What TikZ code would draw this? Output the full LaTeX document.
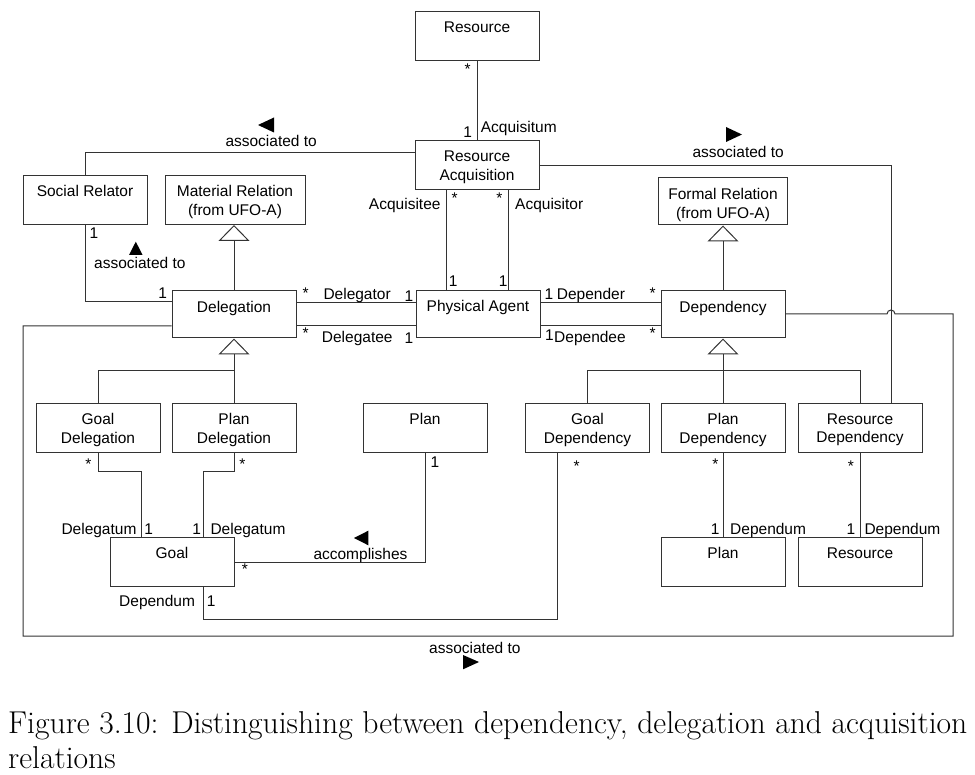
\documentclass[tikz,border=0pt]{standalone}
\usepackage{fontspec}
\newfontfamily\umlfont{Liberation Sans}
\usepackage{tikz}
\usetikzlibrary{arrows.meta}
\usepackage{xcolor}
\definecolor{umlline}{HTML}{333333}

\begin{document}
\begin{tikzpicture}[
  x=1pt, y=-1pt,
  font=\umlfont\fontsize{15.5}{18.7}\selectfont,
  umlclass/.style={draw=umlline, line width=1pt, minimum width=124pt, minimum height=49pt, inner sep=0pt},
  classname/.style={anchor=north, label distance=-10.4pt, inner sep=0pt, align=center},
  assoc/.style={draw=umlline, line width=1pt},
  isa/.style={assoc, -{Triangle[open, length=16pt, width=31pt]}},
  mult/.style={inner sep=0pt, anchor=base},
  role/.style={inner sep=0pt, anchor=base west},
  star/.style={inner sep=0pt}
]
  \useasboundingbox (0,0) rectangle (975,775);

  % Classes, top part
  \node[umlclass, label={[classname]north:Resource}] (resource) at (477,36.5) {};
  \node[umlclass, label={[classname]north:{Resource\\Acquisition}}] (resacq) at (477,165.5) {};
  \node[umlclass, label={[classname]north:Social Relator}] (socrel) at (85,200) {};
  \node[umlclass, minimum width=140pt, label={[classname]north:{Material Relation\\(from UFO-A)}}] (matrel) at (235,200) {};
  \node[umlclass, minimum width=129pt, minimum height=47pt, label={[classname]north:{Formal Relation\\(from UFO-A)}}] (formrel) at (723,201.5) {};

  % Classes, middle row
  \node[umlclass, minimum height=47pt, label={[classname]north:Delegation}] (deleg) at (234,314.5) {};
  \node[umlclass, minimum height=47pt, label={[classname]north:Physical Agent}] (agent) at (478,314) {};
  \node[umlclass, minimum height=47pt, label={[classname]north:Dependency}] (depend) at (723,314.5) {};

  % Subclasses
  \node[umlclass, label={[classname]north:{Goal\\Delegation}}] (goaldel) at (98,428) {};
  \node[umlclass, label={[classname]north:{Plan\\Delegation}}] (plandel) at (234,428) {};
  \node[umlclass, label={[classname]north:Plan}] (planmid) at (425,428) {};
  \node[umlclass, label={[classname]north:{Goal\\Dependency}}] (goaldep) at (587.5,428) {};
  \node[umlclass, label={[classname]north:{Plan\\Dependency}}] (plandep) at (723,428) {};
  \node[umlclass, label={[classname]north:{Resource\\Dependency}}] (resdep) at (860,428) {};

  % Bottom row
  \node[umlclass, label={[classname]north:Goal}] (goal) at (172,562) {};
  \node[umlclass, label={[classname]north:Plan}] (planlow) at (723,562) {};
  \node[umlclass, label={[classname]north:Resource}] (reslow) at (860,562) {};

  % Acquisition links
  \draw[assoc] (resource.south) -- (resacq.north);
  \draw[assoc] (resacq.south -| 446,0) -- (agent.north -| 446,0);
  \draw[assoc] (resacq.south -| 508,0) -- (agent.north -| 508,0);
  \draw[assoc] (socrel.north) |- (resacq.west |- 0,153);
  \draw[assoc] (resacq.east) -| (resdep.north -| 891,0);

  % Delegation / dependency links
  \draw[assoc] (socrel.south) |- (deleg.west |- 0,302);
  \draw[isa] (deleg.north) -- (deleg.north |- matrel.south);
  \draw[isa] (depend.north) -- (formrel.south);
  \draw[assoc] (deleg.east |- 0,302.5) -- (agent.west |- 0,302.5);
  \draw[assoc] (deleg.east |- 0,326) -- (agent.west |- 0,326);
  \draw[assoc] (agent.east |- 0,302.5) -- (depend.west |- 0,302.5);
  \draw[assoc] (agent.east |- 0,326) -- (depend.west |- 0,326);

  % Generalizations
  \draw[isa] (plandel.north) -- (deleg.south);
  \draw[assoc] (goaldel.north) |- (plandel.north |- 0,371);
  \draw[isa] (plandep.north) -- (depend.south);
  \draw[assoc] (goaldep.north) |- (resdep.north |- 0,371) -- (resdep.north);

  % Goal, plan, resource links
  \draw[assoc] (goaldel.south) |- (141,472) -- (goal.north -| 141,0);
  \draw[assoc] (plandel.south) |- (203,472) -- (goal.north -| 203,0);
  \draw[assoc] (planmid.south) |- (goal.east);
  \draw[assoc] (goal.south -| 203,0) |- (557,619) -- (goaldep.south -| 557,0);
  \draw[assoc] (plandep.south) -- (planlow.north);
  \draw[assoc] (resdep.south) -- (reslow.north);

  % Outer loop, hopping over the vertical line
  \draw[assoc] (deleg.west |- 0,326) -| (23,636) -| (953,314)
    -- (895,314) arc[start angle=0, end angle=-180, radius=4] -- (depend.east |- 0,314);

  % Reading direction marks
  \fill (258,125) -- (274,117.5) -- (274,132.5) -- cycle;
  \fill (742,134.5) -- (726,127) -- (726,142) -- cycle;
  \fill (135.8,241.7) -- (129,255) -- (142.6,255) -- cycle;
  \fill (354,538) -- (368.3,530.7) -- (368.3,545.3) -- cycle;
  \fill (479,662) -- (463,655) -- (463,669.3) -- cycle;

  % Association labels
  \node[role] (assocA) at (225.3,146.7) {associated to};
  \node[role] (assocB) at (692.3,157.3) {associated to};
  \node[role] (assocC) at (94,268.3) {associated to};
  \node[role] (assocD) at (429,653.3) {associated to};
  \node[role] (accompl) at (313.3,559.3) {accomplishes};

  % Multiplicities and roles, top
  \node[star] (sRes) at (467.7,69.3) {*};
  \node[mult] (oRes) at (467.7,137.3) {1};
  \node[role] (acqum) at (480.7,132.3) {Acquisitum};
  \node[inner sep=0pt, anchor=base east] (acqee) at (440.7,209.3) {Acquisitee};
  \node[star] (sAcqee) at (454.7,198.3) {*};
  \node[star] (sAcqor) at (499.3,198.3) {*};
  \node[role] (acqor) at (515,209.3) {Acquisitor};
  \node[mult] (oAcqee) at (453.3,286.7) {1};
  \node[mult] (oAcqor) at (503.3,286.7) {1};
  \node[mult] (oSoc) at (94,238.3) {1};
  \node[mult] (oSocDel) at (162.7,298.3) {1};

  % Multiplicities and roles, middle
  \node[star] (sDgor) at (305.7,293) {*};
  \node[role] (dgor) at (323.3,299.3) {Delegator};
  \node[mult] (oDgor) at (409,301.7) {1};
  \node[star] (sDgee) at (305.7,333) {*};
  \node[role] (dgee) at (321.7,343) {Delegatee};
  \node[mult] (oDgee) at (409,344) {1};
  \node[mult] (oDpor) at (549,299.3) {1};
  \node[role] (dpor) at (556.7,299.3) {Depender};
  \node[star] (sDpor) at (652.7,293) {*};
  \node[mult] (oDpee) at (549.5,341) {1};
  \node[role] (dpee) at (554,343) {Dependee};
  \node[star] (sDpee) at (652.7,333) {*};

  % Multiplicities and roles, bottom
  \node[star] (sGdel) at (88.3,464) {*};
  \node[star] (sPdel) at (242.3,464) {*};
  \node[mult] (oPlan) at (435,467.3) {1};
  \node[role] (dtumA) at (61.3,534.7) {Delegatum};
  \node[mult] (oDtumA) at (148.7,534.7) {1};
  \node[mult] (oDtumB) at (196.7,534.7) {1};
  \node[role] (dtumB) at (210.3,534.7) {Delegatum};
  \node[star] (sAcc) at (245,569.3) {*};
  \node[role] (dumGoal) at (119,606) {Dependum};
  \node[mult] (oDumGoal) at (211.3,606) {1};
  \node[star] (sGdep) at (576.7,466) {*};
  \node[star] (sPdep) at (715.3,464) {*};
  \node[star] (sRdep) at (851,466) {*};
  \node[mult] (oDumPlan) at (715.3,534.7) {1};
  \node[role] (dumPlan) at (730,534.7) {Dependum};
  \node[mult] (oDumRes) at (851,534.7) {1};
  \node[role] (dumRes) at (864.3,534.7) {Dependum};

  % Caption
  \node[inner sep=0pt, anchor=north west, align=left, font=\normalfont\fontsize{31.6}{35}\selectfont] (caption) at (8,711.5)
    {Figure 3.10: Distinguishing between dependency, delegation and acquisition\\relations};

\end{tikzpicture}
\end{document}
